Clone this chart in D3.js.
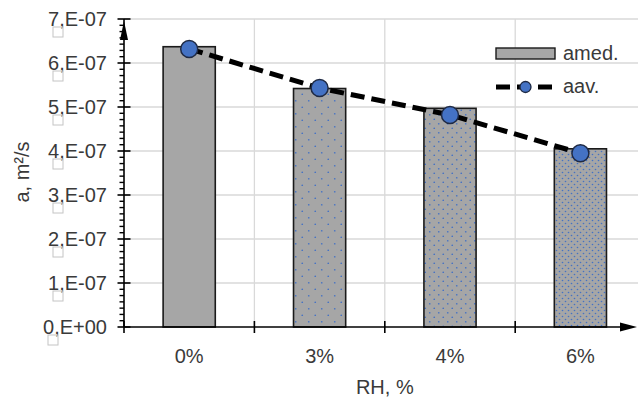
<!DOCTYPE html>
<html>
<head>
<meta charset="utf-8">
<script src="https://cdn.jsdelivr.net/npm/d3@7"></script>
<style>
  html, body { margin: 0; padding: 0; background: #fff; }
  svg { display: block; font-family: "Liberation Sans", Arial, sans-serif; }
</style>
</head>
<body>
<svg id="chart" width="638" height="398"></svg>
<script>
// Thermal diffusivity vs relative humidity
const categories = ["0%", "3%", "4%", "6%"];
const amed = [6.37e-7, 5.42e-7, 4.97e-7, 4.05e-7];   // bars
const aav  = [6.32e-7, 5.43e-7, 4.82e-7, 3.95e-7];   // dashed line with markers
const yTickValues = [0, 1e-7, 2e-7, 3e-7, 4e-7, 5e-7, 6e-7, 7e-7];
const yTickLabels = ["0,E+00", "1,E-07", "2,E-07", "3,E-07", "4,E-07", "5,E-07", "6,E-07", "7,E-07"];
const seriesNames = ["amed.", "aav."];
const xTitle = "RH, %";
const yTitle = "a, m²/s";

(function draw() {
const svg = d3.select("#chart");
const plotL = 124, plotT = 19, plotB = 327, plotR = 645.6;

const x = d3.scaleBand().domain(categories).range([plotL, plotR]).paddingInner(0.6).paddingOuter(0.3);
const xBounds = d3.scaleLinear().domain([0, categories.length]).range([plotL, plotR]);
const y = d3.scaleLinear().domain([0, 7e-7]).range([plotB, plotT]);

const blue = "#4472c4", grey = "#a6a6a6", gridC = "#d9d9d9", textC = "#3a3a3a";

// Dotted fills, denser with increasing humidity
const defs = svg.append("defs");
function dotPattern(id, size, r) {
  const p = defs.append("pattern").attr("id", id).attr("patternUnits", "userSpaceOnUse")
    .attr("width", size).attr("height", size);
  p.append("rect").attr("width", size).attr("height", size).attr("fill", grey);
  if (r > 0) {
    p.append("circle").attr("cx", size / 4).attr("cy", size / 4).attr("r", r).attr("fill", blue);
    p.append("circle").attr("cx", size * 3 / 4).attr("cy", size * 3 / 4).attr("r", r).attr("fill", blue);
  }
}
dotPattern("p0", 8, 0);
dotPattern("p1", 13, 0.85);
dotPattern("p2", 9, 0.85);
dotPattern("p3", 6, 0.8);
const fills = ["url(#p0)", "url(#p1)", "url(#p2)", "url(#p3)"];

// Gridlines
const grid = svg.append("g");
grid.selectAll("line.h").data(yTickValues.slice(1)).join("line")
  .attr("x1", plotL).attr("x2", plotR).attr("y1", d => y(d)).attr("y2", d => y(d))
  .attr("stroke", gridC).attr("stroke-width", 1.3);
grid.selectAll("line.v").data(d3.range(1, categories.length + 1)).join("line")
  .attr("x1", d => xBounds(d)).attr("x2", d => xBounds(d)).attr("y1", plotT).attr("y2", plotB)
  .attr("stroke", gridC).attr("stroke-width", 1.3);

// Bars
svg.append("g").selectAll("rect").data(amed).join("rect")
  .attr("x", (d, i) => x(categories[i]))
  .attr("width", x.bandwidth())
  .attr("y", d => y(d))
  .attr("height", d => y(0) - y(d))
  .attr("fill", (d, i) => fills[i])
  .attr("stroke", "#1a1a1a").attr("stroke-width", 1.6);

// Y axis with minor ticks
const yAxis = svg.append("g");
yAxis.append("line").attr("x1", plotL).attr("x2", plotL).attr("y1", plotT).attr("y2", plotB)
  .attr("stroke", "#000").attr("stroke-width", 1.6);
const minor = [];
for (let i = 0; i < yTickValues.length - 1; i++) {
  for (let k = 1; k < 7; k++) minor.push(yTickValues[i] + (yTickValues[i + 1] - yTickValues[i]) * k / 7);
}
yAxis.selectAll("line.minor").data(minor).join("line")
  .attr("x1", plotL - 4.5).attr("x2", plotL).attr("y1", d => y(d)).attr("y2", d => y(d))
  .attr("stroke", "#000").attr("stroke-width", 1.4);
yAxis.selectAll("line.major").data(yTickValues).join("line")
  .attr("x1", plotL - 6.5).attr("x2", plotL + 6.5).attr("y1", d => y(d)).attr("y2", d => y(d))
  .attr("stroke", "#000").attr("stroke-width", 1.6);
yAxis.append("path")
  .attr("d", `M${plotL},${plotT + 2} L${plotL + 4},${plotT + 21} L${plotL - 4},${plotT + 21} Z`)
  .attr("fill", "#000");
const yLabels = yAxis.selectAll("g.lab").data(yTickValues).join("g");
yLabels.append("text")
  .attr("x", 107).attr("y", d => y(d)).attr("dy", "0.36em")
  .attr("text-anchor", "end").attr("font-size", 20).attr("fill", textC)
  .text((d, i) => yTickLabels[i]);
// small empty glyph boxes under the decimal comma
yLabels.append("rect")
  .attr("x", (d, i) => 107 - (yTickLabels[i].indexOf("+") > 0 ? 59 : 54))
  .attr("y", d => y(d) + 8).attr("width", 10).attr("height", 10)
  .attr("fill", "none").attr("stroke", "#c4c4c4").attr("stroke-width", 1);

// X axis
const xAxis = svg.append("g");
xAxis.append("line").attr("x1", plotL).attr("x2", 625).attr("y1", plotB).attr("y2", plotB)
  .attr("stroke", "#000").attr("stroke-width", 1.6);
xAxis.append("path")
  .attr("d", `M637,${plotB} L620,${plotB - 4.5} L620,${plotB + 4.5} Z`).attr("fill", "#000");
xAxis.selectAll("line.t").data(d3.range(0, categories.length)).join("line")
  .attr("x1", d => xBounds(d)).attr("x2", d => xBounds(d)).attr("y1", plotB - 6).attr("y2", plotB + 6)
  .attr("stroke", "#000").attr("stroke-width", 1.6);
xAxis.selectAll("text").data(categories).join("text")
  .attr("x", d => x(d) + x.bandwidth() / 2).attr("y", 362.5)
  .attr("text-anchor", "middle").attr("font-size", 20).attr("fill", textC).text(d => d);

// Axis titles
svg.append("text").attr("x", (plotL + plotR) / 2).attr("y", 393.5).attr("text-anchor", "middle")
  .attr("font-size", 20).attr("fill", textC).text(xTitle);
svg.append("text").attr("transform", "translate(29,172) rotate(-90)").attr("text-anchor", "middle")
  .attr("font-size", 20).attr("fill", textC).text(yTitle);

// Average series: dashed line with circle markers
const cx = (d, i) => x(categories[i]) + x.bandwidth() / 2;
svg.append("path").datum(aav)
  .attr("d", d3.line().x(cx).y(d => y(d)))
  .attr("fill", "none").attr("stroke", "#000").attr("stroke-width", 5)
  .attr("stroke-dasharray", "14,7");
svg.append("g").selectAll("circle").data(aav).join("circle")
  .attr("cx", cx).attr("cy", d => y(d)).attr("r", 8.5)
  .attr("fill", blue).attr("stroke", "#1f2a44").attr("stroke-width", 1.5);

// Legend
const lg = svg.append("g");
lg.append("rect").attr("x", 496).attr("y", 48).attr("width", 59).attr("height", 11)
  .attr("fill", grey).attr("stroke", "#1a1a1a").attr("stroke-width", 1.4);
lg.append("text").attr("x", 563).attr("y", 60).attr("font-size", 20).attr("fill", textC).text(seriesNames[0]);
lg.append("line").attr("x1", 496).attr("x2", 555).attr("y1", 87).attr("y2", 87)
  .attr("stroke", "#000").attr("stroke-width", 5).attr("stroke-dasharray", "14,7");
lg.append("circle").attr("cx", 525.5).attr("cy", 87).attr("r", 5.5)
  .attr("fill", blue).attr("stroke", "#1f2a44").attr("stroke-width", 1.3);
lg.append("text").attr("x", 563).attr("y", 93).attr("font-size", 20).attr("fill", textC).text(seriesNames[1]);
})();
</script>
</body>
</html>
